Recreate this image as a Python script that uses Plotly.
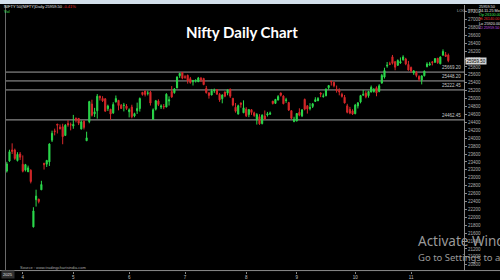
import plotly.graph_objects as go

# ---------------- data (NIFTY 50 daily) ----------------
opens = [23168,23424,23701,23700,23434,23600,23341,23192,23150,23190,
         21758,22446,22460,22695,23368,23344,23401,23949,24185,24357,
         24277,24289,24070,24371,24342,24311,24500,24500,24233,24431,
         23935,24420,24864,24613,24694,25064,25005,24996,24745,24733,
         24639,24919,24957,24832,24825,24812,24669,24786,24561,24691,
         24748,25160,25196,25134,25164,24474,24732,24939,24789,24803,
         24787,24939,25179,25150,25268,25576,25661,25551,25588,25505,
         25428,25450,25427,25515,25511,25255,25149,25090,25196,25231,
         25109,24999,25166,25139,25243,25010,24782,24609,24890,24642,
         24734,24596,24720,24641,24464,24544,24371,24563,24586,24607,
         24938,24881,24966,25143,25065,24951,24900,24695,24420,24432,
         24654,24563,24980,24819,24750,24802,24930,24945,25140,25050,
         25073,25277,25441,25410,25238,25209,25108,25034,24818,24729,
         24691,24620,24816,24916,25086,25140,25074,25167,25178,25276,
         25182,25394,25546,25824,25880,26057,25935,25843,25900,25982,
         26003,25863,25790,25650,25662,25561,25470,25580,25810,25850,
         25930,25920,26020,25880,26100,26109,26100]
highs = [23403,23709,23870,23736,23646,23649,23565,23350,23306,23214,
         22255,22698,22468,22923,23368,23452,23872,24189,24242,24359,
         24348,24365,24355,24457,24396,24589,24526,24509,24449,24447,
         24164,24944,24973,24767,25116,25071,25062,25010,24847,24737,
         24909,25079,24960,24864,24892,24863,24754,24845,24644,24899,
         25030,25160,25200,25199,25197,24754,24967,24982,24855,24863,
         25137,25058,25318,25266,25561,25654,25669,25593,25608,25548,
         25470,25490,25549,25548,25525,25322,25151,25245,25255,25238,
         25144,25111,25182,25233,25247,25011,24889,24848,24903,24956,
         24784,24736,24733,24671,24634,24609,24602,24702,24664,24674,
         24939,24993,25089,25154,25084,25021,24919,24702,24541,24636,
         24756,24737,25002,24833,24886,24891,25035,25038,25160,25132,
         25261,25346,25449,25428,25331,25261,25150,25092,24869,24791,
         24731,24867,24909,25095,25220,25192,25199,25331,25267,25310,
         25365,25625,25781,25926,25934,26104,25944,25992,26042,26097,
         26032,25953,25810,25720,25700,25590,25590,25710,25920,25930,
         25950,26020,26030,26070,26246,26179,26140]
lows = [23132,23402,23601,23451,23412,23450,23136,23158,23145,22857,
        21743,22271,22353,22695,23207,23273,23298,23903,24072,24119,
        24216,23847,24054,24290,24198,24238,24400,24331,24220,24221,
        23935,24378,24547,24536,24494,24953,24916,24669,24686,24463,
        24614,24901,24704,24737,24677,24717,24526,24502,24530,24613,
        24672,25077,25055,25081,24825,24474,24700,24813,24738,24733,
        24784,24825,25020,25125,25267,25523,25490,25501,25379,25379,
        25331,25407,25424,25424,25340,25129,25001,25089,25144,25101,
        24919,24882,25035,25085,25018,24807,24646,24599,24772,24635,
        24535,24532,24590,24539,24344,24337,24347,24465,24547,24589,
        24852,24867,24952,25054,24859,24893,24689,24481,24404,24432,
        24554,24533,24704,24621,24703,24763,24915,24940,25038,25025,
        25060,25227,25330,25286,25151,25084,25027,24878,24629,24606,
        24587,24605,24751,24881,25076,25008,25024,25157,25152,25060,
        25160,25376,25508,25781,25847,25862,25718,25827,25881,25960,
        25845,25711,25660,25600,25540,25440,25360,25560,25790,25830,
        25840,25900,25880,25870,26080,26052,25920]
closes = [23350,23658,23668,23487,23592,23519,23165,23332,23250,22904,
          22162,22536,22399,22829,23329,23437,23852,24125,24167,24329,
          24247,24039,24328,24336,24334,24347,24461,24380,24414,24273,
          24008,24925,24578,24667,25062,25020,24945,24684,24813,24610,
          24853,25002,24826,24752,24834,24751,24717,24543,24621,24751,
          25003,25103,25105,25141,24888,24719,24947,24853,24812,24793,
          25112,24972,25044,25245,25549,25637,25517,25542,25453,25405,
          25461,25461,25523,25476,25355,25150,25082,25196,25212,25112,
          24968,25091,25061,25220,25062,24837,24681,24821,24855,24768,
          24565,24723,24650,24574,24596,24363,24585,24487,24619,24631,
          24877,24980,25051,25083,24870,24968,24712,24501,24480,24625,
          24580,24715,24734,24741,24773,24869,24973,25005,25114,25069,
          25239,25330,25424,25327,25202,25170,25057,24891,24655,24635,
          24611,24836,24894,25078,25108,25046,25182,25285,25227,25146,
          25324,25586,25710,25843,25869,25892,25795,25966,25936,26054,
          25878,25722,25700,25700,25586,25492,25575,25695,25876,25879,
          25910,26013,25910,26052,26192,26068,25960]

month_pos = [6, 25, 46, 67, 90, 109, 131, 152]
month_lbl = ["4", "5", "6", "7", "8", "9", "10", "11"]

level_vals = [25669.20, 25448.20, 25222.45, 24462.45]
level_lbls = ["25669.20", "25448.20", "25222.45", "24462.45"]

last_close = 25959.50

W, H = 500, 280
def px(x):
    return x / W
def py(y):
    return 1 - y / H

x_idx = list(range(len(closes)))

fig = go.Figure()
fig.add_trace(go.Candlestick(
    x=x_idx, open=opens, high=highs, low=lows, close=closes,
    increasing=dict(line=dict(color="#2bd84b", width=1), fillcolor="#2bd84b"),
    decreasing=dict(line=dict(color="#d8282a", width=1), fillcolor="#d8282a"),
    whiskerwidth=0, hoverinfo="skip", showlegend=False,
))

shapes = []
annos = []

# top light strip
shapes.append(dict(type="rect", xref="paper", yref="paper", x0=0, x1=1,
                   y0=py(4), y1=1, fillcolor="#d3dfeb", line=dict(width=0), layer="above"))
# left border
shapes.append(dict(type="line", xref="paper", yref="paper", x0=px(5.5), x1=px(5.5),
                   y0=py(272.5), y1=py(5), line=dict(color="#6a6a6a", width=1)))
# bottom line across
shapes.append(dict(type="line", xref="paper", yref="paper", x0=0, x1=1,
                   y0=py(272.5), y1=py(272.5), line=dict(color="#8a8a8a", width=1)))

# horizontal levels
for i, (v, t) in enumerate(zip(level_vals, level_lbls)):
    last = i == len(level_vals) - 1
    shapes.append(dict(type="line", xref="paper", yref="y", x0=px(5.5), x1=px(464),
                       y0=v, y1=v,
                       line=dict(color="#a8a8a8" if last else "#5c5c5c",
                                 width=1 if last else 1.6), layer="below"))
    annos.append(dict(xref="paper", yref="y", x=px(463), y=v, text=t,
                      xanchor="right", yanchor="bottom", showarrow=False,
                      font=dict(size=4.5, color="#c8c8c8", family="Liberation Sans")))

# title
annos.append(dict(xref="paper", yref="paper", x=px(242), y=py(32), text="<b>Nifty Daily Chart</b>",
                  showarrow=False, xanchor="center", yanchor="middle",
                  font=dict(size=15, color="white", family="Lato")))

# top-left info
annos.append(dict(xref="paper", yref="paper", x=px(2), y=py(7), xanchor="left", yanchor="middle",
                  text="NIFTY 50(NIFTY)Daily 25959.50 <span style='color:#e03030'>-0.41%</span>",
                  showarrow=False, font=dict(size=4, color="#e8e8e8", family="Liberation Sans")))
annos.append(dict(xref="paper", yref="paper", x=px(2), y=py(12), xanchor="left", yanchor="middle",
                  text="Vol", showarrow=False, font=dict(size=4, color="#3ee05a", family="Liberation Sans")))
annos.append(dict(xref="paper", yref="paper", x=px(455), y=py(11), xanchor="left", yanchor="middle",
                  text="LOG  RSS", showarrow=False, font=dict(size=4, color="#b0b0b0", family="Liberation Sans")))

# right-top info block
info = [("25959.50", "#e8e8e8"), ("24.11.25 Mo", "#e8e8e8"), ("Op 26100.00", "#3ee05a"),
        ("Hi 26140.00", "#e03030"), ("Lo 25920.00", "#e8e8e8"), ("Cl 25959.50", "#c050e0")]
for k, (t, c) in enumerate(info):
    annos.append(dict(xref="paper", yref="paper", x=px(477), y=py(7 + 4.2 * k), xanchor="left",
                      yanchor="middle", text=t, showarrow=False,
                      font=dict(size=3.8, color=c, family="Liberation Sans")))

# current price tag
annos.append(dict(xref="paper", yref="y", x=px(464.5), y=last_close, xanchor="left", yanchor="middle",
                  text="25959.50", showarrow=False, bgcolor="#d4d4d4", borderpad=0.5,
                  font=dict(size=4.5, color="#000", family="Liberation Sans")))

# source
annos.append(dict(xref="paper", yref="paper", x=px(18), y=py(269), xanchor="left", yanchor="middle",
                  text="Source : www.tradingchartsindia.com", showarrow=False,
                  font=dict(size=4, color="#a8a8a8", family="Liberation Sans")))
annos.append(dict(xref="paper", yref="paper", x=px(1), y=py(276.5), xanchor="left", yanchor="middle",
                  text="2025", showarrow=False, bgcolor="#303030",
                  font=dict(size=4, color="#e0e0e0", family="Liberation Sans")))

# windows watermark
annos.append(dict(xref="paper", yref="paper", x=px(416), y=py(243), xanchor="left", yanchor="middle",
                  text="Activate Windows", showarrow=False,
                  font=dict(size=13.5, color="#9a9a9a", family="Noto Sans")))
annos.append(dict(xref="paper", yref="paper", x=px(416), y=py(259), xanchor="left", yanchor="middle",
                  text="Go to Settings to activate Windows.", showarrow=False,
                  font=dict(size=9.5, color="#9a9a9a", family="Noto Sans")))

fig.update_layout(
    width=W, height=H, margin=dict(l=0, r=0, t=0, b=0),
    paper_bgcolor="black", plot_bgcolor="black",
    shapes=shapes, annotations=annos, boxgap=0.4,
    xaxis=dict(domain=[px(5.5), px(464)], range=[-0.5, 171.9],
               rangeslider=dict(visible=False), showgrid=False, zeroline=False,
               tickmode="array", tickvals=month_pos, ticktext=month_lbl,
               ticks="outside", ticklen=2, tickcolor="#888",
               tickfont=dict(size=4.5, color="#c0c0c0", family="Liberation Sans"),
               showline=False),
    yaxis=dict(domain=[py(272.5), py(5)], range=[20654, 27368], side="right",
               showgrid=False, zeroline=False, dtick=200, tick0=0, tickformat="d",
               ticks="outside", ticklen=2, tickcolor="#888",
               tickfont=dict(size=4.5, color="#b0b0b0", family="Liberation Sans"),
               showline=True, linecolor="#8a8a8a", linewidth=1),
)

fig.write_html("out.html")
